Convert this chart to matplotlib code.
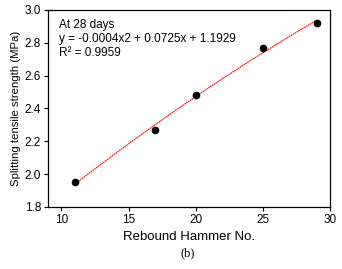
import numpy as np
import matplotlib
matplotlib.use("Agg")
import matplotlib.pyplot as plt

plt.rcParams['font.family'] = ['Liberation Sans', 'DejaVu Sans']

rebound = [11, 17, 20, 25, 29]
strength = [1.95, 2.27, 2.48, 2.77, 2.92]
x_ticks = [10, 15, 20, 25, 30]
y_ticks = [1.8, 2.0, 2.2, 2.4, 2.6, 2.8, 3.0]

fig = plt.figure(figsize=(3.42, 2.69), dpi=100)
ax = fig.add_axes([48/342, 1 - 207/269, (330-48)/342, (207-10)/269])

xs = np.linspace(min(rebound), max(rebound), 100)
coef = np.polyfit(rebound, strength, 2)
ax.plot(xs, np.polyval(coef, xs), color='red', lw=0.8, ls=(0, (1.5, 0.5)))
ax.plot(rebound, strength, 'o', color='black', ms=4.5)

ax.set_xlim(9, 30)
ax.set_ylim(1.8, 3.0)
ax.set_xticks(x_ticks)
ax.set_yticks(y_ticks)
ax.set_yticklabels([f"{v:.1f}" for v in y_ticks])
ax.tick_params(direction='out', length=3, width=0.8, labelsize=8.5, pad=2)
for s in ax.spines.values():
    s.set_linewidth(0.9)

ax.set_xlabel("Rebound Hammer No.", fontsize=9.5, labelpad=4)
ax.set_ylabel("Splitting tensile strength (MPa)", fontsize=8.2, labelpad=3)

ax.text(59/342, 1 - 19/269, "At 28 days\ny = -0.0004x2 + 0.0725x + 1.1929\nR² = 0.9959",
        transform=fig.transFigure, fontsize=8.5, va='top', ha='left', linespacing=1.2)

fig.text(188/342, 1 - 253/269, "(b)", fontsize=9, family='Liberation Serif', ha='center', va='center')

fig.savefig("out.png", dpi=100)
